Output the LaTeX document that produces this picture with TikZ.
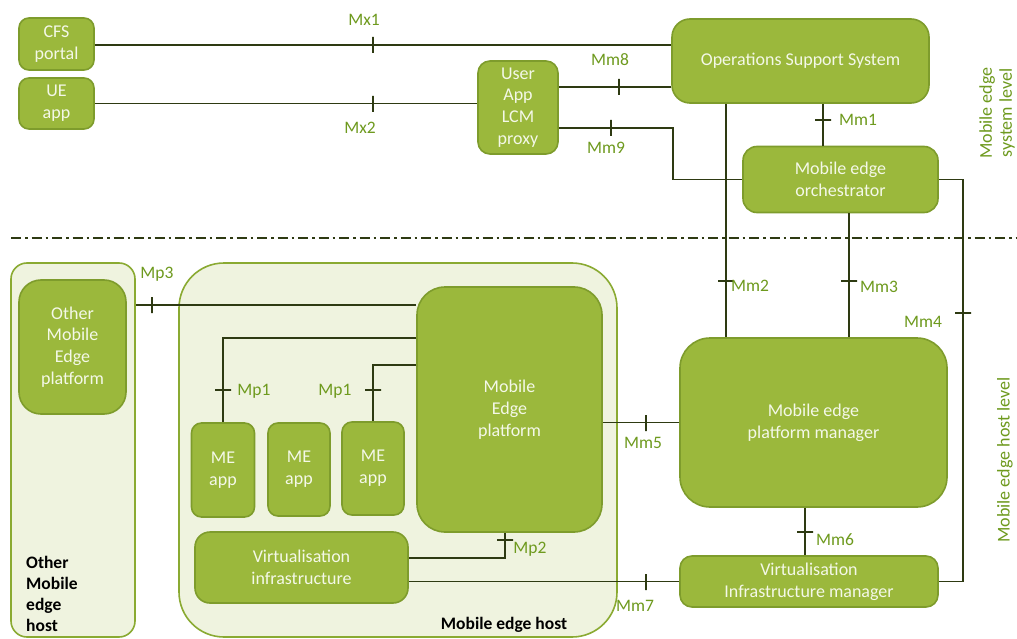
\documentclass[tikz,border=0pt]{standalone}
\usepackage{fontspec}
\setmainfont{Carlito}
\definecolor{boxf}{HTML}{9BB83C}
\definecolor{boxb}{HTML}{7E9C2C}
\definecolor{hostf}{HTML}{EFF3DF}
\definecolor{hostb}{HTML}{8AAA32}
\definecolor{linec}{HTML}{2E3A12}
\definecolor{labc}{HTML}{6E9A1E}
\definecolor{boxt}{HTML}{F4F8E8}
\begin{document}
\begin{tikzpicture}[x=1pt,y=-1pt,
  box/.style={draw=boxb, fill=boxf, line width=1.6pt, text=boxt, align=center,
    inner sep=0pt, font=\fontsize{18}{21.7}\selectfont},
  host/.style={draw=hostb, fill=hostf, line width=1.6pt, inner sep=0pt},
  conn/.style={draw=linec, line width=1.6pt},
  tkv/.style={draw=linec, line width=1.6pt, minimum width=0pt, minimum height=16pt, inner sep=0pt, outer sep=0pt},
  tkh/.style={draw=linec, line width=1.6pt, minimum width=16pt, minimum height=0pt, inner sep=0pt, outer sep=0pt},
  lab/.style={text=labc, inner sep=0pt, font=\fontsize{17.5}{21}\selectfont},
  blab/.style={text=black, inner sep=0pt, font=\fontsize{17.5}{21}\selectfont\bfseries, align=left},
  sidelab/.style={text=labc, inner sep=0pt, rotate=90, align=center, font=\fontsize{18}{20}\selectfont}
]
\fill[white] (0,0) rectangle (1017,639);
\useasboundingbox (0,0) rectangle (1017,639);

% hosts
\node[host, rounded corners=16pt, minimum width=124pt, minimum height=374pt] (ohost) at (73,450) {};
\node[host, rounded corners=45pt, minimum width=438pt, minimum height=374pt] (mehost) at (398,450) {};

% system level boxes
\node[box, rounded corners=10pt, minimum width=75pt, minimum height=52pt] (cfs) at (56.5,44) {CFS\\portal};
\node[box, rounded corners=10pt, minimum width=75pt, minimum height=51pt] (ue) at (56.5,103.5) {UE\\app};
\node[box, rounded corners=12pt, minimum width=80pt, minimum height=93pt] (proxy) at (518,107.5) {User\\App\\LCM\\proxy};
\node[box, rounded corners=18pt, minimum width=257pt, minimum height=84pt] (oss) at (800.5,61) {Operations Support System};
\node[box, rounded corners=14pt, minimum width=195pt, minimum height=66pt] (orch) at (840.5,179.5) {Mobile edge\\orchestrator};

% host level boxes
\node[box, rounded corners=30pt, minimum width=267pt, minimum height=169pt] (pm) at (813.5,422.5) {Mobile edge\\platform manager};
\node[box, rounded corners=12pt, minimum width=258pt, minimum height=51pt] (vim) at (809,581.5) {Virtualisation\\Infrastructure manager};
\node[box, rounded corners=22pt, minimum width=107pt, minimum height=134pt] (omep) at (72.5,347) {Other\\Mobile\\Edge\\platform};
\node[box, rounded corners=28pt, minimum width=185pt, minimum height=245pt] (mep) at (509.5,409.5) {Mobile\\Edge\\platform};
\node[box, rounded corners=10pt, minimum width=63pt, minimum height=94pt] (app1) at (223,470) {ME\\app};
\node[box, rounded corners=10pt, minimum width=62pt, minimum height=93pt] (app2) at (299,469.5) {ME\\app};
\node[box, rounded corners=10pt, minimum width=62pt, minimum height=93pt] (app3) at (373,468.5) {ME\\app};
\node[box, rounded corners=15pt, minimum width=213pt, minimum height=71pt] (vi) at (301.5,567.5) {Virtualisation\\infrastructure};

% separator
\draw[linec, line width=1.6pt, dash pattern=on 10pt off 4pt on 2.5pt off 4pt] (11,238) -- (1017,238);

% connectors
\draw[conn] (cfs.east |- 0,45) -- (oss.west |- 0,45);
\draw[conn] (ue.east) -- (ue.east -| proxy.west);
\draw[conn] (proxy.east |- 0,87) -- (oss.west |- 0,87);
\draw[conn] (proxy.east |- 0,128) -- (673,128) |- (orch.west);
\draw[conn] (oss.south -| 823,0) -- (orch.north -| 823,0);
\draw[conn] (oss.south -| 726,0) -- (pm.north -| 726,0);
\draw[conn] (orch.south -| 849,0) -- (pm.north -| 849,0);
\draw[conn] (orch.east) -- (orch.east -| 963,0) |- (vim.east);
\draw[conn] (pm.west) -- (pm.west -| mep.east);
\draw[conn] (pm.south -| 805,0) -- (vim.north -| 805,0);
\draw[conn] (vim.west) -- (vim.west -| vi.east);
\draw[conn] (ohost.east |- 0,305) -- (mep.west |- 0,305);
\draw[conn] (mep.west |- 0,338) -| (app1.north);
\draw[conn] (mep.west |- 0,365) -| (app3.north);
\draw[conn] (vi.east |- 0,558) -| (mep.south -| 505,0);

% ticks
\node[tkv] (t1) at (373,45) {};
\node[tkv] (t2) at (373,104) {};
\node[tkv] (t3) at (619,87) {};
\node[tkv] (t4) at (611,128) {};
\node[tkh] (t5) at (823,120) {};
\node[tkh] (t6) at (726,281) {};
\node[tkh] (t7) at (849,281) {};
\node[tkh] (t8) at (963,313) {};
\node[tkv] (t9) at (646,423) {};
\node[tkh] (t10) at (805,532) {};
\node[tkv] (t11) at (646,582) {};
\node[tkv] (t12) at (152,305) {};
\node[tkh] (t13) at (223,390) {};
\node[tkh] (t14) at (373,390) {};
\node[tkh] (t15) at (505,540) {};

% interface labels
\node[lab] (lmx1) at (364,20) {Mx1};
\node[lab] (lmx2) at (360,128) {Mx2};
\node[lab] (lmm8) at (610,60) {Mm8};
\node[lab] (lmm9) at (606,148) {Mm9};
\node[lab] (lmm1) at (858,120) {Mm1};
\node[lab] (lmm2) at (750,286) {Mm2};
\node[lab] (lmm3) at (879,287) {Mm3};
\node[lab] (lmm4) at (923,322) {Mm4};
\node[lab] (lmm5) at (643,443) {Mm5};
\node[lab] (lmm6) at (835,540) {Mm6};
\node[lab] (lmm7) at (635,606) {Mm7};
\node[lab] (lmp3) at (157,274) {Mp3};
\node[lab] (lmp1a) at (254,391) {Mp1};
\node[lab] (lmp1b) at (335,391) {Mp1};
\node[lab] (lmp2) at (530,549) {Mp2};

% area labels
\node[blab, anchor=west] (lohost) at (26,594) {Other\\Mobile\\edge\\host};
\node[blab] (lmehost) at (504,625) {Mobile edge host};
\node[sidelab] (lsys) at (997,113) {Mobile edge\\system level};
\node[sidelab] (lhost) at (1005,460) {Mobile edge host level};
\end{tikzpicture}
\end{document}
